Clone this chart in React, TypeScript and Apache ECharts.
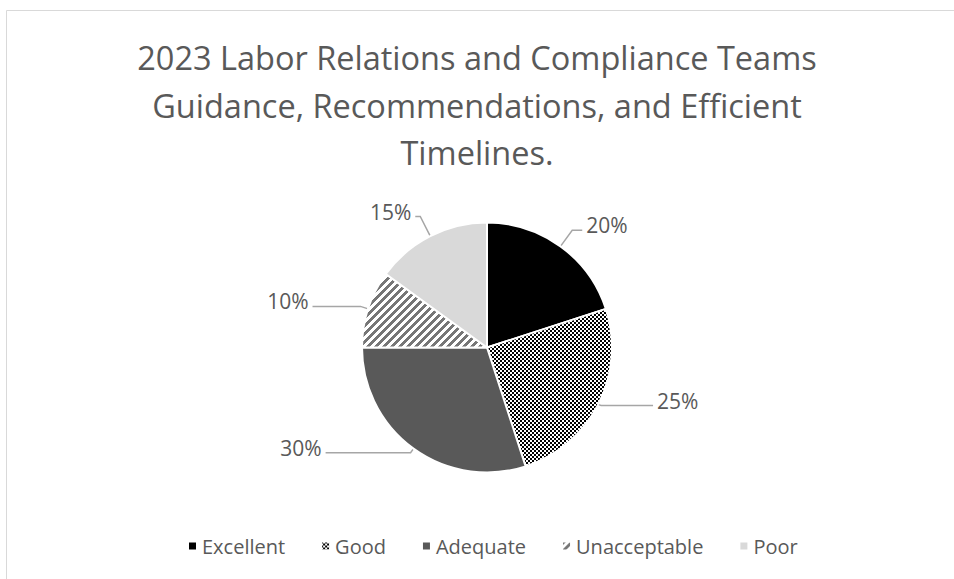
import React, { useEffect, useRef } from "react";
import * as echarts from "echarts";

const titleLines = [
  "2023 Labor Relations and Compliance Teams",
  "Guidance, Recommendations, and Efficient",
  "Timelines.",
];
const categories = ["Excellent", "Good", "Adequate", "Unacceptable", "Poor"];
const values = [20, 25, 30, 10, 15];
// leader line lengths per slice [radial, horizontal]
const leaderLengths = [
  [20, 10],
  [3, 52],
  [5, 85],
  [8, 48],
  [22, 5],
];

function makeChecker(): HTMLCanvasElement {
  const c = document.createElement("canvas");
  c.width = 4;
  c.height = 4;
  const ctx = c.getContext("2d")!;
  ctx.fillStyle = "#ffffff";
  ctx.fillRect(0, 0, 4, 4);
  ctx.fillStyle = "#000000";
  ctx.fillRect(0, 0, 2, 2);
  ctx.fillRect(2, 2, 2, 2);
  return c;
}

function makeStripes(): HTMLCanvasElement {
  const n = 8;
  const c = document.createElement("canvas");
  c.width = n;
  c.height = n;
  const ctx = c.getContext("2d")!;
  ctx.fillStyle = "#ffffff";
  ctx.fillRect(0, 0, n, n);
  ctx.fillStyle = "#767676";
  for (let x = 0; x < n; x++) {
    for (let y = 0; y < n; y++) {
      if ((x + y) % n < 4) ctx.fillRect(x, y, 1, 1);
    }
  }
  return c;
}

export default function App() {
  const ref = useRef<HTMLDivElement>(null);
  useEffect(() => {
    if (!ref.current) return;
    const chart = echarts.init(ref.current, undefined, { renderer: "svg" });
    const checker = makeChecker();
    const stripes = makeStripes();
    const colors: any[] = [
      "#000000",
      { image: checker, repeat: "repeat" },
      "#595959",
      { image: stripes, repeat: "repeat" },
      "#d9d9d9",
    ];
    const font = "'Open Sans', sans-serif";
    chart.setOption({
      animation: false,
      backgroundColor: "#ffffff",
      title: {
        text: titleLines.join("\n"),
        left: "center",
        top: 29,
        textStyle: {
          fontFamily: font,
          fontSize: 32.5,
          fontWeight: "normal",
          color: "#595959",
          lineHeight: 47.5,
        },
      },
      graphic: [
        {
          type: "rect",
          shape: { x: 6.5, y: 10.5, width: 1000, height: 1000 },
          style: { fill: "none", stroke: "#d9d9d9", lineWidth: 1 },
          silent: true,
        },
      ],
      legend: {
        top: 531,
        left: 182,
        itemWidth: 9,
        itemHeight: 9,
        itemGap: 35,
        icon: "rect",
        textStyle: { fontFamily: font, fontSize: 20, color: "#595959" },
        data: categories,
      },
      series: [
        {
          type: "pie",
          center: [487, 347.5],
          radius: [0, 125],
          startAngle: 90,
          clockwise: true,
          data: categories.map((name, i) => ({
            name,
            value: values[i],
            itemStyle: { color: colors[i] },
            labelLine: {
              length: leaderLengths[i][0],
              length2: leaderLengths[i][1],
            },
          })),
          itemStyle: { borderColor: "#ffffff", borderWidth: 2 },
          label: {
            show: true,
            formatter: "{p|{c}%}",
            color: "#595959",
            distanceToLabelLine: 4,
            rich: {
              p: {
                fontFamily: font,
                fontSize: 21,
                color: "#595959",
                padding: [0, 0, 10, 0],
              },
            },
          },
          labelLine: {
            show: true,
            lineStyle: { color: "#a6a6a6", width: 1.5 },
          },
          emphasis: { disabled: true },
        },
      ],
    });
    return () => chart.dispose();
  }, []);
  return (
    <div
      ref={ref}
      style={{ position: "fixed", left: 0, top: 0, width: 954, height: 579 }}
    />
  );
}
